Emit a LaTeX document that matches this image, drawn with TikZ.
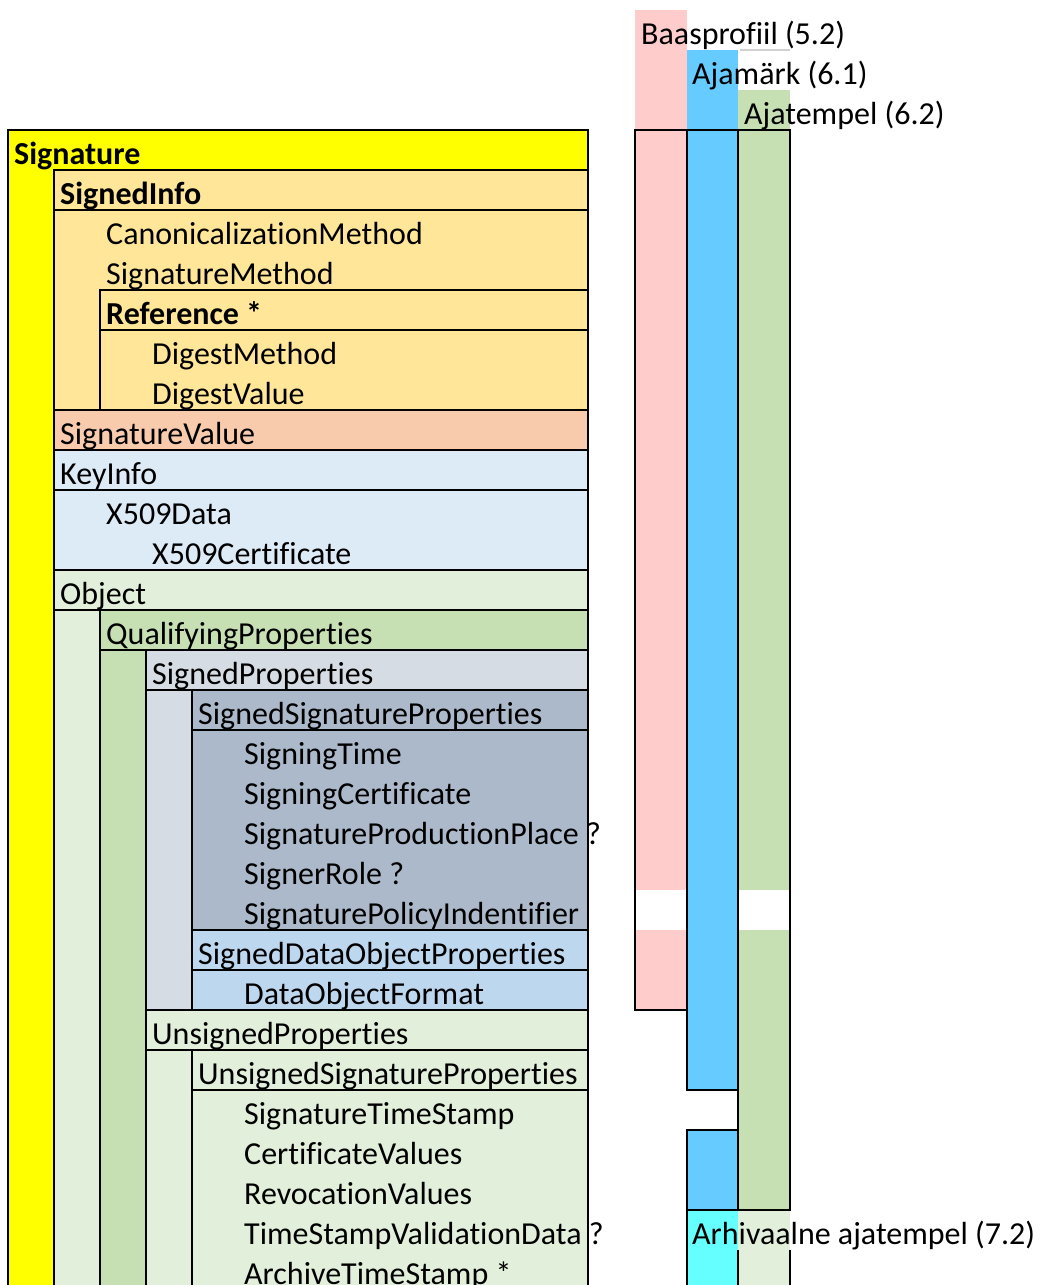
\documentclass[tikz,border=0pt]{standalone}
\usepackage{fontspec}
\setmainfont{Carlito}[Ligatures={NoCommon}]
\usepackage{xcolor}
\definecolor{sigyellow}{HTML}{FFFF00}
\definecolor{infoorange}{HTML}{FFE699}
\definecolor{valuesalmon}{HTML}{F8CBAD}
\definecolor{keyblue}{HTML}{DDEBF7}
\definecolor{objgreen}{HTML}{E2EFDA}
\definecolor{qualgreen}{HTML}{C6E0B4}
\definecolor{propgray}{HTML}{D6DCE4}
\definecolor{sspgray}{HTML}{ACB9CA}
\definecolor{sdopblue}{HTML}{BDD7EE}
\definecolor{basepink}{HTML}{FFCCCC}
\definecolor{markblue}{HTML}{66CCFF}
\definecolor{archcyan}{HTML}{66FFFF}
\newcommand{\cellfont}{\fontsize{32}{38}\selectfont}
\usetikzlibrary{positioning}

\begin{document}
\begin{tikzpicture}[
    % GLOBAL CFG
    x=1pt, y=-1pt,
    % Styles
    cell/.style={% bordered block of cells
        draw=black,
        line width=1.8pt,
        },
    gap/.style={% empty cells inside a profile column
        fill=white,
        draw=none,
        },
    txt/.style={% plain cell text, bottom aligned
        anchor=base west,
        inner sep=0pt,
        font=\cellfont,
        },
    bold/.style={% element with children
        txt,
        font=\cellfont\bfseries,
        },
    ]

    \clip (0,0) rectangle (1039,1285);

%Start drawing the thing...
    % Signature and its top level children
    \filldraw [cell, fill=sigyellow] (8,130) rectangle (588,1300);
    \filldraw [cell, fill=infoorange] (54,170) rectangle (588,410);
    \draw [cell] (54,170) rectangle (588,210);
    \draw [cell] (100,290) rectangle (588,410);
    \draw [cell] (100,290) rectangle (588,330);
    \filldraw [cell, fill=valuesalmon] (54,410) rectangle (588,450);
    \filldraw [cell, fill=keyblue] (54,450) rectangle (588,570);
    \draw [cell] (54,450) rectangle (588,490);

    % Object blocks
    \filldraw [cell, fill=objgreen] (54,570) rectangle (588,1300);
    \draw [cell] (54,570) rectangle (588,610);
    \filldraw [cell, fill=qualgreen] (100,610) rectangle (588,1300);
    \draw [cell] (100,610) rectangle (588,650);
    \filldraw [cell, fill=propgray] (146,650) rectangle (588,1010);
    \draw [cell] (146,650) rectangle (588,690);
    \filldraw [cell, fill=sspgray] (192,690) rectangle (588,930);
    \draw [cell] (192,690) rectangle (588,730);
    \filldraw [cell, fill=sdopblue] (192,930) rectangle (588,1010);
    \draw [cell] (192,930) rectangle (588,970);
    \filldraw [cell, fill=objgreen] (146,1010) rectangle (588,1300);
    \draw [cell] (146,1010) rectangle (588,1050);
    \filldraw [cell, fill=objgreen] (192,1050) rectangle (588,1300);
    \draw [cell] (192,1050) rectangle (588,1090);

    % Profile columns: headers
    \fill [basepink] (635,10) rectangle (687,130);
    \fill [markblue] (687,50) rectangle (738,130);
    \fill [qualgreen] (738,90) rectangle (790,130);
    \draw [line width=1.5pt, black!18] (740,50) -- (790,50);

    % Profile columns: bars
    \fill [basepink] (635,130) rectangle (687,1010);
    \fill [gap] (635,890) rectangle (687,930);
    \draw [cell] (635,130) rectangle (687,1010);
    \fill [qualgreen] (738,130) rectangle (790,1210);
    \fill [gap] (738,890) rectangle (790,930);
    \draw [cell] (738,130) rectangle (790,1210);
    \filldraw [cell, fill=markblue] (687,130) rectangle (738,1090);
    \filldraw [cell, fill=markblue] (687,1130) rectangle (738,1210);
    \fill [archcyan] (687,1210) rectangle (738,1300);
    \fill [objgreen] (738,1210) rectangle (790,1300);
    \draw [cell] (687,1300) -- (687,1210) -- (790,1210);
    \draw [cell] (738,1250) -- (738,1300);
    \draw [cell] (790,1250) -- (790,1300);

    % Element names
    \node [bold] (sig) at (14,164) {Signature};
    \node [bold] (sinfo) at (60,204) {SignedInfo};
    \node [txt] (canon) at (106,244) {CanonicalizationMethod};
    \node [txt] (smethod) at (106,284) {SignatureMethod};
    \node [bold] (ref) at (106,324) {Reference *};
    \node [txt] (dmethod) at (152,364) {DigestMethod};
    \node [txt] (dvalue) at (152,404) {DigestValue};
    \node [txt] (svalue) at (60,444) {SignatureValue};
    \node [txt] (kinfo) at (60,484) {KeyInfo};
    \node [txt] (xdata) at (106,524) {X509Data};
    \node [txt] (xcert) at (152,564) {X509Certificate};
    \node [txt] (obj) at (60,604) {Object};
    \node [txt] (qprops) at (106,644) {QualifyingProperties};
    \node [txt] (sprops) at (152,684) {SignedProperties};
    \node [txt] (ssprops) at (198,724) {SignedSignatureProperties};
    \node [txt] (stime) at (244,764) {SigningTime};
    \node [txt] (scert) at (244,804) {SigningCertificate};
    \node [txt] (splace) at (244,844) {SignatureProductionPlace ?};
    \node [txt] (srole) at (244,884) {SignerRole ?};
    \node [txt] (spolicy) at (244,924) {SignaturePolicyIndentifier};
    \node [txt] (sdoprops) at (198,964) {SignedDataObjectProperties};
    \node [txt] (doformat) at (244,1004) {DataObjectFormat};
    \node [txt] (uprops) at (152,1044) {UnsignedProperties};
    \node [txt] (usprops) at (198,1084) {UnsignedSignatureProperties};
    \node [txt] (sstamp) at (244,1124) {SignatureTimeStamp};
    \node [txt] (cvalues) at (244,1164) {CertificateValues};
    \node [txt] (rvalues) at (244,1204) {RevocationValues};
    \node [txt] (tsvdata) at (244,1244) {TimeStampValidationData ?};
    \node [txt] (astamp) at (244,1284) {ArchiveTimeStamp *};

    % Profile names
    \node [txt] (base) at (641,44) {Baasprofiil (5.2)};
    \node [txt] (mark) at (692,84) {Ajamärk (6.1)};
    \node [txt] (tstamp) at (744,124) {Ajatempel (6.2)};
    \node [txt] (archive) at (692,1244) {Arhivaalne ajatempel (7.2)};

\end{tikzpicture}
\end{document}
